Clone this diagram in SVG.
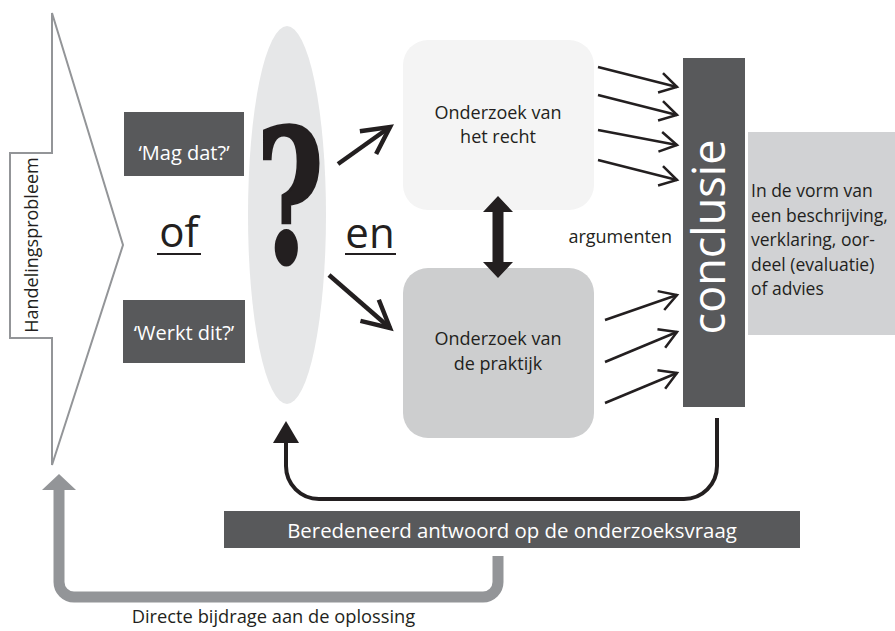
<svg xmlns="http://www.w3.org/2000/svg" width="895" height="631" viewBox="0 0 895 631">
<style>
text{font-family:"Open Sans","Liberation Sans",sans-serif;fill:#231f20}
.w{fill:#ffffff}
.dark{fill:#58595b}
.thin{stroke:#231f20;stroke-width:2.5;fill:none}
.thick{stroke:#231f20;stroke-width:4.5;fill:none}
</style>
<defs>
<marker id="oa" markerUnits="userSpaceOnUse" orient="auto" overflow="visible" markerWidth="20" markerHeight="20" refX="0" refY="0">
<path d="M-17,-10 L0,0 L-17,10" fill="none" stroke="#231f20" stroke-width="2.5" stroke-linejoin="miter"/>
</marker>
<marker id="ob" markerUnits="userSpaceOnUse" orient="auto" overflow="visible" markerWidth="30" markerHeight="30" refX="0" refY="0">
<path d="M-27,-14 L0,0 L-27,14" fill="none" stroke="#231f20" stroke-width="4.5" stroke-linejoin="miter"/>
</marker>
</defs>
<rect width="895" height="631" fill="#ffffff"/>

<g id="handelingsprobleem">
<polygon points="52,13 123,245 52,465 52,338 10,338 10,153 52,153" fill="#ffffff" stroke="#939598" stroke-width="2"/>
<text transform="translate(38,245) rotate(-90)" text-anchor="middle" font-size="18">Handelingsprobleem</text>
</g>

<g id="mag-dat">
<rect x="124" y="112" width="120" height="64" class="dark"/>
<text x="184" y="160" text-anchor="middle" font-size="20" class="w">‘Mag dat?’</text>
</g>

<g id="of">
<text x="179" y="247" text-anchor="middle" font-size="42">of</text>
<line x1="157" y1="254" x2="201" y2="254" stroke="#231f20" stroke-width="2"/>
</g>

<g id="werkt-dit">
<rect x="123" y="300" width="122" height="63" class="dark"/>
<text x="184" y="340" text-anchor="middle" font-size="20" class="w">‘Werkt dit?’</text>
</g>

<g id="vraag">
<ellipse cx="287" cy="215" rx="39" ry="189" fill="#e6e7e8"/>
<text transform="translate(290,262) scale(0.62,1)" text-anchor="middle" font-size="185" font-weight="bold" stroke="#231f20" stroke-width="3" style="font-family:'DejaVu Serif','Liberation Serif',serif">?</text>
</g>

<g id="en">
<text x="370" y="248" text-anchor="middle" font-size="42">en</text>
<line x1="345" y1="254" x2="396" y2="254" stroke="#231f20" stroke-width="2"/>
</g>

<g id="onderzoek-recht">
<rect x="403" y="40" width="191" height="170" rx="25" fill="#f4f4f4"/>
<text x="498" y="119" text-anchor="middle" font-size="18">Onderzoek van</text>
<text x="498" y="143" text-anchor="middle" font-size="18">het recht</text>
</g>

<g id="onderzoek-praktijk">
<rect x="403" y="268" width="191" height="170" rx="25" fill="#cdcecf"/>
<text x="498" y="345" text-anchor="middle" font-size="18">Onderzoek van</text>
<text x="498" y="370" text-anchor="middle" font-size="18">de praktijk</text>
</g>

<g id="argumenten">
<text x="672" y="243" text-anchor="end" font-size="18">argumenten</text>
</g>

<g id="conclusie">
<rect x="683" y="58" width="62" height="349" class="dark"/>
<text transform="translate(725,237) rotate(-90)" text-anchor="middle" font-size="45" class="w">conclusie</text>
</g>

<g id="vorm">
<rect x="748" y="132" width="147" height="203" fill="#d1d2d4"/>
<text font-size="17.5">
<tspan x="751" y="197">In de vorm van</tspan>
<tspan x="751" y="221.5">een beschrijving,</tspan>
<tspan x="751" y="246">verklaring, oor-</tspan>
<tspan x="751" y="270.5">deel (evaluatie)</tspan>
<tspan x="751" y="295">of advies</tspan>
</text>
</g>

<g id="beredeneerd">
<rect x="224" y="511" width="576" height="37" class="dark"/>
<text x="512" y="538" text-anchor="middle" font-size="20.4" class="w">Beredeneerd antwoord op de onderzoeksvraag</text>
</g>

<g id="directe">
<text x="273.5" y="623" text-anchor="middle" font-size="18.3">Directe bijdrage aan de oplossing</text>
</g>

<g id="connectors">
<line x1="338" y1="164" x2="390" y2="127" class="thick" marker-end="url(#ob)"/>
<line x1="329" y1="275" x2="390" y2="328" class="thick" marker-end="url(#ob)"/>
<polygon points="498,196 513,212 503.5,212 503.5,262 513,262 498,278 483,262 492.5,262 492.5,212 483,212" fill="#231f20"/>
<line x1="598" y1="67" x2="677" y2="87" class="thin" marker-end="url(#oa)"/>
<line x1="598" y1="95" x2="677" y2="115" class="thin" marker-end="url(#oa)"/>
<line x1="598" y1="130" x2="677" y2="145" class="thin" marker-end="url(#oa)"/>
<line x1="598" y1="160" x2="677" y2="180" class="thin" marker-end="url(#oa)"/>
<line x1="605" y1="320" x2="677" y2="295" class="thin" marker-end="url(#oa)"/>
<line x1="605" y1="362" x2="677" y2="332" class="thin" marker-end="url(#oa)"/>
<line x1="605" y1="403" x2="677" y2="373" class="thin" marker-end="url(#oa)"/>
<path d="M717,418 V466 A33,33 0 0 1 684,499 H319 A33,33 0 0 1 286,466 V441" fill="none" stroke="#231f20" stroke-width="4"/>
<polygon points="286,421 299,443 273,443" fill="#231f20"/>
<path d="M498,556 V582 A15,15 0 0 1 483,597 H74 A15,15 0 0 1 59,582 V488" fill="none" stroke="#939598" stroke-width="11"/>
<polygon points="59,474 76,490 42,490" fill="#939598"/>
</g>
</svg>
